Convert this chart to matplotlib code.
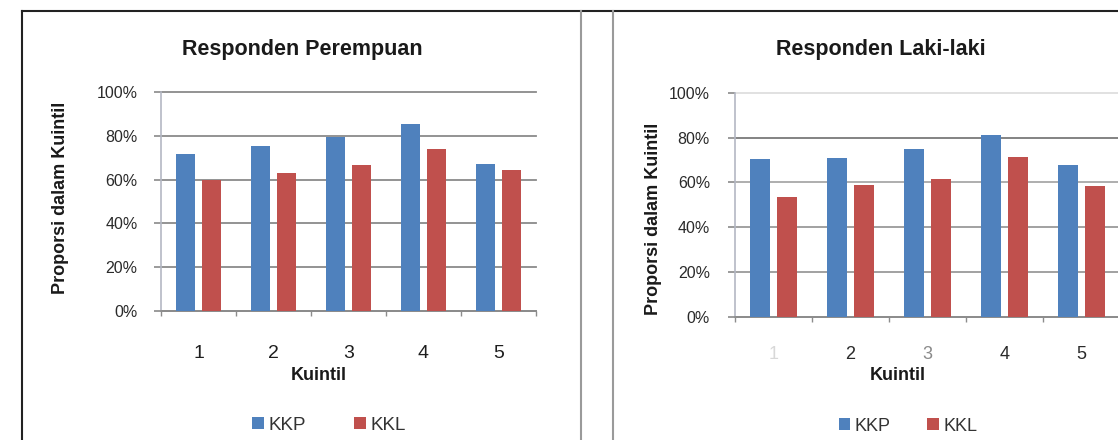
import matplotlib
matplotlib.use('Agg')
import matplotlib.pyplot as plt
import numpy as np
from matplotlib.lines import Line2D
from matplotlib.ticker import PercentFormatter, FixedLocator

plt.rcParams['font.family'] = ['Liberation Sans', 'DejaVu Sans']

# Proporsi dalam kuintil (fraction)
kuintil = ['1', '2', '3', '4', '5']
perempuan_kkp = [0.715, 0.755, 0.795, 0.852, 0.673]
perempuan_kkl = [0.597, 0.632, 0.668, 0.740, 0.645]
laki_kkp = [0.705, 0.710, 0.750, 0.810, 0.678]
laki_kkl = [0.535, 0.590, 0.615, 0.712, 0.585]

BLUE = '#4F81BD'
RED = '#C0504D'
W, H = 1118, 440

fig = plt.figure(figsize=(W / 100, H / 100), dpi=100)


def px_axes(x0, y_top, x1, y_bot):
    return fig.add_axes([x0 / W, 1 - y_bot / H, (x1 - x0) / W, (y_bot - y_top) / H])


def fig_text(x, y, s, **kw):
    fig.text(x / W, 1 - y / H, s, ha='center', va='center', **kw)


def draw_panel(ax, kkp, kkl, tick_size, tick_pad, ytick_pad, grid_colors, label_colors):
    x = np.arange(len(kuintil))
    width = 0.255
    b1 = ax.bar(x - 0.175, kkp, width, color=BLUE, label='KKP', zorder=3)
    b2 = ax.bar(x + 0.175, kkl, width, color=RED, label='KKL', zorder=3)

    ax.set_xlim(-0.5, len(kuintil) - 0.5)
    ax.set_ylim(0, 1.0)
    ax.yaxis.set_major_locator(FixedLocator([0, 0.2, 0.4, 0.6, 0.8, 1.0]))
    ax.yaxis.set_major_formatter(PercentFormatter(1.0, decimals=0))
    ax.set_xticks(x)
    ax.set_xticklabels(kuintil)
    ax.set_xticks(np.arange(-0.5, len(kuintil)), minor=True)

    ax.tick_params(axis='x', which='major', length=0, pad=tick_pad,
                   labelsize=tick_size)
    ax.tick_params(axis='x', which='minor', length=3.5, width=1, color='#8c8c8c',
                   direction='out')
    ax.tick_params(axis='y', length=5, width=1.2, color='#8a8a8a',
                   direction='out', pad=ytick_pad, labelsize=11.5,
                   labelcolor='#2a2a2a')
    for lbl, c in zip(ax.get_xticklabels(), label_colors):
        lbl.set_color(c)

    ax.grid(axis='y', linewidth=1.3, zorder=0)
    for gl, c in zip(ax.get_ygridlines(), grid_colors):
        gl.set_color(c)
        gl.set_clip_on(False)

    for side in ['top', 'right']:
        ax.spines[side].set_visible(False)
    ax.spines['left'].set_color('#b4b8c4')
    ax.spines['left'].set_linewidth(1.2)
    ax.spines['bottom'].set_color('#8c8c8c')
    ax.spines['bottom'].set_linewidth(1.3)
    return b1, b2


# Responden Perempuan
ax1 = px_axes(161, 92, 536, 311)
h1 = draw_panel(ax1, perempuan_kkp, perempuan_kkl, 14, 24.5, 12,
                ['#8a8a8a'] * 6, ['#1e1e1e'] * 5)
fig_text(302, 49, 'Responden Perempuan', fontsize=15.5, fontweight='bold', color='#1a1a1a')
fig_text(61, 198, 'Proporsi dalam Kuintil', fontsize=13, fontweight='bold',
         rotation=90, color='#1a1a1a')
fig_text(319, 375, 'Kuintil', fontsize=13, fontweight='bold', color='#1a1a1a')
fig.legend(h1, ['KKP', 'KKL'], loc='center', bbox_to_anchor=(329 / W, 1 - 425 / H),
           ncol=2, frameon=False, fontsize=13.5, handlelength=0.62,
           handleheight=0.62, handletextpad=0.25, columnspacing=2.6,
           labelcolor='#333333')

# Responden Laki-laki
ax2 = px_axes(735, 93, 1120, 316.5)
h2 = draw_panel(ax2, laki_kkp, laki_kkl, 13, 21.5, 13,
                ['#8f8f8f', '#9a9a9a', '#9a9a9a', '#a8a8a8', '#7a7a7a', '#dedede'],
                ['#d8d8d8', '#2a2a2a', '#8a8a8a', '#2a2a2a', '#2a2a2a'])
fig_text(881, 50, 'Responden Laki-laki', fontsize=15.5, fontweight='bold', color='#1a1a1a')
fig_text(653, 219, 'Proporsi dalam Kuintil', fontsize=13, fontweight='bold',
         rotation=90, color='#1a1a1a')
fig_text(898, 375, 'Kuintil', fontsize=13, fontweight='bold', color='#1a1a1a')
fig.legend(h2, ['KKP', 'KKL'], loc='center', bbox_to_anchor=(908 / W, 1 - 426 / H),
           ncol=2, frameon=False, fontsize=13, handlelength=0.65,
           handleheight=0.65, handletextpad=0.25, columnspacing=2.0,
           labelcolor='#333333')

# Table frame round the two charts
frame = [
    ((22, 1118), (11, 11), '#222222', 1.5),
    ((22, 22), (11, 440), '#222222', 1.5),
    ((581, 581), (11, 440), '#9a9a9a', 1.5),
    ((613, 613), (11, 440), '#9a9a9a', 1.5),
]
for xs, ys, c, lw in frame:
    fig.add_artist(Line2D([x / W for x in xs], [1 - y / H for y in ys],
                          color=c, linewidth=lw, transform=fig.transFigure))

fig.savefig('out.png', dpi=100)
